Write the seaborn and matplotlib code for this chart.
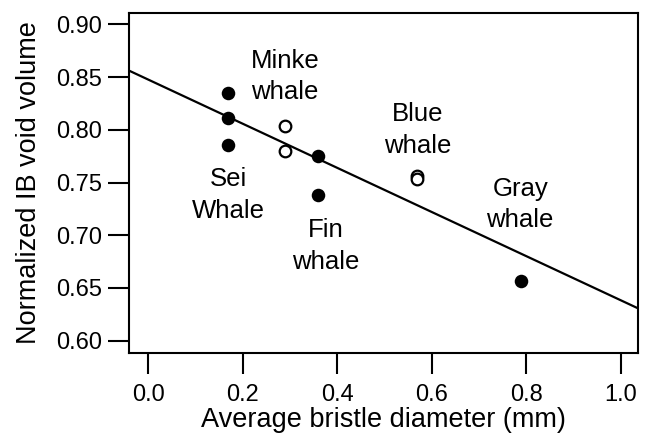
import seaborn as sns
import matplotlib.pyplot as plt
import pandas as pd

# ----------------------------
# Data
# ----------------------------
species = ["Sei", "Sei", "Sei", "Minke", "Minke", "Fin", "Fin", "Blue", "Blue", "Gray"]
diameter = [0.169, 0.169, 0.169, 0.289, 0.289, 0.360, 0.360, 0.569, 0.569, 0.789]
void_volume = [0.835, 0.8115, 0.7856, 0.8036, 0.7802, 0.7752, 0.7382, 0.756, 0.753, 0.6567]
open_marker = [False, False, False, True, True, False, False, True, True, False]

labels = ["Minke\nwhale", "Blue\nwhale", "Sei\nWhale", "Fin\nwhale", "Gray\nwhale"]
label_x = [0.289, 0.571, 0.169, 0.376, 0.787]
label_y = [0.8505, 0.800, 0.738, 0.690, 0.729]

df = pd.DataFrame({"species": species, "diameter": diameter,
                   "void": void_volume, "open": open_marker})

# ----------------------------
# Plot
# ----------------------------
sns.set_style("ticks")
plt.rcParams["font.family"] = ["Liberation Sans", "DejaVu Sans"]
plt.rcParams.update({"text.color": "black", "axes.labelcolor": "black",
                     "xtick.color": "black", "ytick.color": "black",
                     "axes.edgecolor": "black"})

fig = plt.figure(figsize=(6.48, 4.38), dpi=100)
ax = fig.add_axes([0.1995, 0.1947, 0.7855, 0.7763])
ax.set_xlim(-0.040, 1.037)
ax.set_ylim(0.5886, 0.911)

sns.regplot(data=df, x="diameter", y="void", scatter=False, ci=None,
            truncate=False, color="black", line_kws={"linewidth": 1.6}, ax=ax)

sns.scatterplot(data=df[~df["open"]], x="diameter", y="void", color="black",
                s=95, edgecolor="black", linewidth=0, ax=ax, zorder=3)
sns.scatterplot(data=df[df["open"]], x="diameter", y="void", facecolor="white",
                s=70, edgecolor="black", linewidth=1.6, ax=ax, zorder=3)

for txt, x, y in zip(labels, label_x, label_y):
    ax.text(x, y, txt, ha="center", va="center", multialignment="center",
            fontsize=18.5, linespacing=1.4)

ax.set_xticks([0.0, 0.2, 0.4, 0.6, 0.8, 1.0])
ax.set_yticks([0.60, 0.65, 0.70, 0.75, 0.80, 0.85, 0.90])
ax.set_xticklabels(["0.0", "0.2", "0.4", "0.6", "0.8", "1.0"])
ax.set_yticklabels(["0.60", "0.65", "0.70", "0.75", "0.80", "0.85", "0.90"])
ax.tick_params(axis="both", direction="out", length=15, width=1.5,
               labelsize=17)
ax.tick_params(axis="y", pad=4.5)
ax.tick_params(axis="x", pad=7.5)
for sp in ax.spines.values():
    sp.set_linewidth(1.5)

ax.set_xlabel("Average bristle diameter (mm)", fontsize=19.5, labelpad=1)
ax.set_ylabel("Normalized IB void volume", fontsize=19.5, labelpad=10)

plt.savefig("out.png", dpi=100)
plt.close()
